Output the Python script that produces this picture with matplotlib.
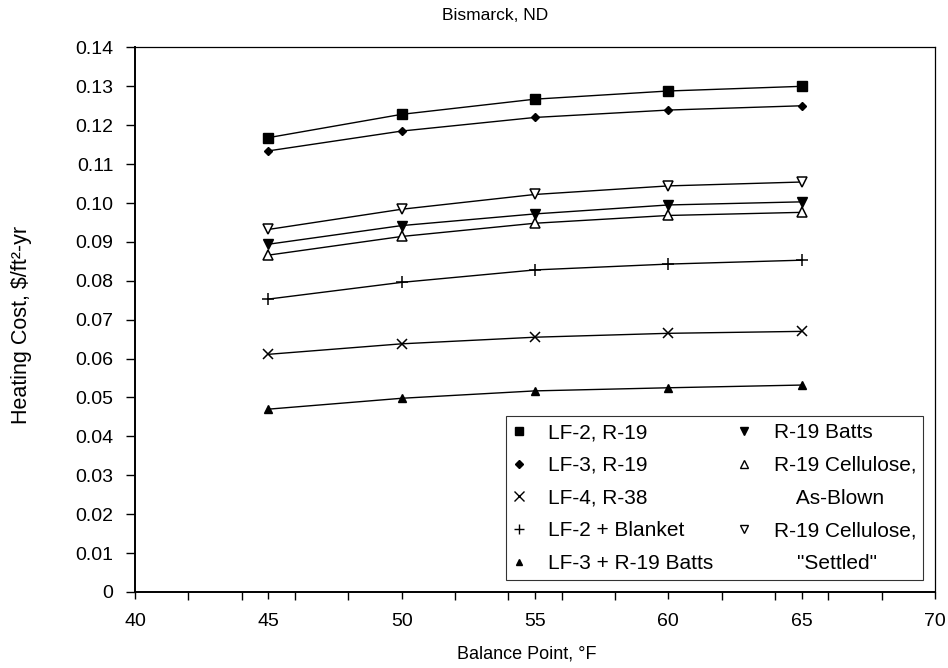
import numpy as np
import matplotlib
matplotlib.use("Agg")
import matplotlib.pyplot as plt
from matplotlib.ticker import MultipleLocator, FuncFormatter
from matplotlib.lines import Line2D

# Data
balance = [45, 50, 55, 60, 65]
lf2_r19 = [0.1168, 0.1228, 0.1267, 0.1288, 0.1300]
lf3_r19 = [0.1134, 0.1185, 0.1220, 0.1239, 0.1250]
lf4_r38 = [0.0611, 0.0638, 0.0655, 0.0665, 0.0670]
lf2_blanket = [0.0753, 0.0796, 0.0828, 0.0843, 0.0853]
lf3_batts = [0.0470, 0.0498, 0.0517, 0.0525, 0.0532]
r19_batts = [0.0894, 0.0942, 0.0972, 0.0995, 0.1003]
r19_blown = [0.0866, 0.0914, 0.0948, 0.0968, 0.0976]
r19_settled = [0.0932, 0.0984, 0.1022, 0.1044, 0.1054]

plt.rcParams['font.family'] = ['Liberation Sans', 'DejaVu Sans']

fig = plt.figure(figsize=(9.48, 6.68), dpi=100)
ax = fig.add_axes([0.1424, 0.1138, 0.8439, 0.8152])

kw = dict(color='black', lw=1.0)
ax.plot(balance, lf2_r19, marker='s', ms=7.5, **kw)
ax.plot(balance, lf3_r19, marker='D', ms=4.5, **kw)
ax.plot(balance, lf4_r38, marker='x', ms=7.5, mew=1.1, **kw)
ax.plot(balance, lf2_blanket, marker='+', ms=8.5, mew=1.1, **kw)
ax.plot(balance, lf3_batts, marker='^', ms=6, **kw)
ax.plot(balance, r19_batts, marker='v', ms=6.5, **kw)
ax.plot(balance, r19_blown, marker='^', ms=6.5, mfc='white', mew=1.1, **kw)
ax.plot(balance, r19_settled, marker='v', ms=6.5, mfc='white', mew=1.1, **kw)

ax.set_xlim(40, 70)
ax.set_ylim(0, 0.14)
ax.xaxis.set_major_locator(MultipleLocator(5))
ax.xaxis.set_minor_locator(MultipleLocator(2))
ax.yaxis.set_major_locator(MultipleLocator(0.01))
ax.yaxis.set_major_formatter(FuncFormatter(lambda v, p: '0' if abs(v) < 1e-9 else f'{v:.2f}'))
ax.tick_params(axis='both', which='both', direction='out', labelsize=14, width=1)
ax.tick_params(axis='x', which='major', length=5, pad=10)
ax.tick_params(axis='x', which='minor', length=6)
ax.tick_params(axis='y', which='major', length=6.5, pad=9)
for s in ax.spines.values():
    s.set_linewidth(0.9)
ax.spines['left'].set_linewidth(1.4)
ax.spines['bottom'].set_linewidth(1.4)

ax.set_title('Bismarck, ND', fontsize=12.5, pad=20, x=0.45)
ax.set_xlabel('Balance Point, °F', fontsize=13, labelpad=9)
ax.xaxis.set_label_coords(0.49, -0.098)
ax.set_ylabel('Heating Cost, \\$/ft²-yr', fontsize=15.5)
ax.yaxis.set_label_coords(-0.129, 0.49)

# Legend: two columns, wrapped labels as separate rows
def h(marker, ms, mfc='black'):
    return Line2D([], [], color='black', ls='none', marker=marker, ms=ms, mfc=mfc, mew=1)

blank = Line2D([], [], ls='none')
handles = [h('s', 6), h('D', 4), h('x', 6.5), h('+', 7.5), h('^', 5),
           h('v', 6), h('^', 6, 'white'), blank, h('v', 6, 'white'), blank]
labels = ['LF-2, R-19', 'LF-3, R-19', 'LF-4, R-38', 'LF-2 + Blanket', 'LF-3 + R-19 Batts',
          'R-19 Batts', 'R-19 Cellulose,', '    As-Blown', 'R-19 Cellulose,', '    "Settled"']
leg = ax.legend(handles, labels, ncol=2, loc='lower right', bbox_to_anchor=(0.985, 0.022),
                fontsize=15, frameon=True, fancybox=False, edgecolor='black',
                handlelength=0.6, handletextpad=1.1, columnspacing=1.2,
                labelspacing=0.66, borderpad=0.33, borderaxespad=0)
leg.get_frame().set_linewidth(0.8)

fig.savefig('out.png', dpi=100)
